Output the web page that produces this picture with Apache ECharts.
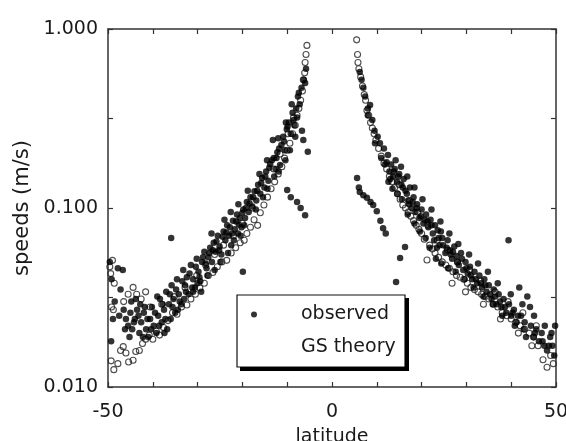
<!DOCTYPE html>
<html>
<head>
<meta charset="utf-8">
<script src="https://cdn.jsdelivr.net/npm/echarts@6/dist/echarts.min.js"></script>
<style>
  html, body { margin: 0; padding: 0; background: #fff; }
  #chart { width: 566px; height: 441px; }
</style>
</head>
<body>
<div id="chart"></div>
<script>
// latitude (deg), speed (m/s)
var observed = [
  [-49.6, 0.050], [-49.2, 0.040], [-48.9, 0.024], [-49.3, 0.018], [-48.5, 0.030], [-47.8, 0.046],
  [-46.7, 0.045], [-47.2, 0.035], [-46.5, 0.027], [-46.0, 0.024], [-45.5, 0.022], [-45.0, 0.026],
  [-44.6, 0.021], [-44.0, 0.024], [-43.5, 0.027], [-43.0, 0.020], [-42.6, 0.023], [-42.0, 0.026],
  [-41.5, 0.021], [-41.0, 0.019], [-40.6, 0.024], [-40.2, 0.028], [-39.8, 0.022], [-39.2, 0.020],
  [-38.8, 0.025], [-38.4, 0.031], [-38.0, 0.023], [-37.5, 0.027], [-37.0, 0.034], [-36.8, 0.021],
  [-36.4, 0.029], [-35.9, 0.068], [-35.8, 0.037], [-35.4, 0.031], [-35.0, 0.026], [-34.6, 0.040],
  [-34.2, 0.033], [-33.6, 0.029], [-33.2, 0.045], [-32.8, 0.037], [-32.4, 0.041], [-32.0, 0.033],
  [-31.5, 0.048], [-31.0, 0.040], [-30.6, 0.036], [-30.2, 0.052], [-29.8, 0.044], [-29.4, 0.039],
  [-29.0, 0.050], [-28.5, 0.057], [-28.0, 0.046], [-27.6, 0.053], [-27.2, 0.060], [-26.8, 0.050],
  [-26.4, 0.064], [-26.0, 0.057], [-25.5, 0.070], [-25.1, 0.061], [-24.7, 0.055], [-24.2, 0.074],
  [-23.8, 0.066], [-23.4, 0.080], [-23.0, 0.070], [-22.5, 0.062], [-22.1, 0.085], [-21.7, 0.076],
  [-21.2, 0.092], [-20.8, 0.081], [-20.4, 0.070], [-19.9, 0.044], [-19.8, 0.098], [-19.4, 0.088],
  [-19.0, 0.108], [-18.6, 0.095], [-18.2, 0.115], [-17.8, 0.102], [-17.3, 0.124], [-16.9, 0.110],
  [-16.5, 0.135], [-16.0, 0.120], [-15.6, 0.147], [-15.1, 0.130], [-14.7, 0.160], [-14.2, 0.142],
  [-13.8, 0.176], [-13.2, 0.240], [-13.0, 0.190], [-12.6, 0.165], [-12.2, 0.205], [-11.6, 0.174],
  [-11.3, 0.225], [-10.9, 0.250], [-10.5, 0.210], [-10.0, 0.126], [-10.1, 0.275], [-9.6, 0.300],
  [-9.2, 0.115], [-9.2, 0.260], [-8.8, 0.340], [-8.4, 0.290], [-7.8, 0.108], [-7.8, 0.320],
  [-7.6, 0.420], [-7.2, 0.380], [-7.0, 0.100], [-6.7, 0.270], [-6.8, 0.470], [-6.4, 0.240],
  [-6.3, 0.520], [-6.0, 0.091], [-6.0, 0.500], [-5.8, 0.600], [-5.4, 0.206],
  [-47.5, 0.025], [-46.2, 0.021], [-45.2, 0.019], [-44.2, 0.023], [-43.2, 0.025], [-42.2, 0.019],
  [-41.2, 0.024], [-40.4, 0.021], [-39.5, 0.026], [-38.6, 0.022], [-37.8, 0.029], [-37.2, 0.024],
  [-36.2, 0.033], [-35.6, 0.028], [-34.8, 0.035], [-34.0, 0.030], [-33.4, 0.039], [-32.6, 0.034],
  [-31.8, 0.043], [-31.2, 0.036], [-30.4, 0.047], [-29.6, 0.041], [-28.8, 0.053], [-28.2, 0.049],
  [-27.4, 0.056], [-26.6, 0.058], [-25.8, 0.065], [-25.2, 0.058], [-24.4, 0.069], [-23.6, 0.073],
  [-22.8, 0.078], [-22.3, 0.072], [-21.4, 0.084], [-20.6, 0.088], [-20.0, 0.094], [-19.2, 0.100],
  [-18.4, 0.106], [-17.6, 0.115], [-16.7, 0.125], [-15.8, 0.138], [-14.9, 0.150], [-14.0, 0.168],
  [-13.4, 0.185], [-12.4, 0.190], [-11.8, 0.215], [-10.7, 0.235], [-9.9, 0.285], [-8.6, 0.310],
  [-8.0, 0.360], [-7.4, 0.440],
  [-44.8, 0.030], [-43.8, 0.031], [-42.8, 0.029], [-41.8, 0.028], [-39.0, 0.032], [-37.4, 0.020],
  [-36.0, 0.024], [-34.4, 0.027], [-33.0, 0.031], [-31.0, 0.034], [-30.0, 0.038], [-29.2, 0.034],
  [-27.8, 0.042], [-26.2, 0.045], [-24.9, 0.050], [-23.2, 0.056], [-21.9, 0.066], [-21.0, 0.072],
  [-20.2, 0.078], [-19.6, 0.080], [-17.0, 0.098], [-15.4, 0.115], [-14.4, 0.128], [-12.9, 0.150],
  [-11.9, 0.160], [-10.4, 0.185], [-9.4, 0.210], [-8.2, 0.250], [-26.9, 0.072], [-24.0, 0.086],
  [-22.6, 0.095], [-20.9, 0.105], [-18.8, 0.125], [-16.2, 0.155], [-14.5, 0.185], [-12.0, 0.245],
  [-10.3, 0.300], [-9.0, 0.380],
  [5.6, 0.147], [6.0, 0.130], [6.2, 0.575], [6.2, 0.123], [6.6, 0.520], [7.0, 0.470],
  [7.0, 0.118], [7.4, 0.420], [7.8, 0.114], [8.0, 0.360], [8.5, 0.376], [8.6, 0.108],
  [9.0, 0.310], [9.2, 0.104], [9.5, 0.270], [10.0, 0.096], [10.2, 0.250], [10.7, 0.230],
  [10.8, 0.085], [11.4, 0.077], [11.6, 0.215], [12.0, 0.072], [12.5, 0.198], [12.8, 0.160],
  [13.2, 0.175], [13.6, 0.150], [14.0, 0.165], [14.3, 0.0386], [14.5, 0.140], [15.0, 0.155],
  [15.2, 0.0525], [15.5, 0.135], [16.0, 0.145], [16.3, 0.0605], [16.4, 0.125], [17.0, 0.110],
  [17.4, 0.130], [17.8, 0.100], [18.2, 0.115], [18.6, 0.095], [19.0, 0.105], [19.5, 0.088],
  [20.0, 0.098], [20.4, 0.082], [21.0, 0.092], [21.5, 0.078], [22.0, 0.086], [22.5, 0.072],
  [23.0, 0.080], [23.4, 0.060], [23.8, 0.068], [24.3, 0.074], [24.8, 0.062], [25.3, 0.056],
  [25.8, 0.066], [26.3, 0.058], [26.8, 0.052], [27.3, 0.061], [27.8, 0.054], [28.3, 0.048],
  [28.8, 0.056], [29.3, 0.045], [29.8, 0.050], [30.3, 0.043], [30.8, 0.047], [31.3, 0.040],
  [31.8, 0.044], [32.4, 0.038], [32.9, 0.042], [33.5, 0.036], [34.0, 0.040], [34.5, 0.034],
  [35.0, 0.037], [35.6, 0.031], [36.1, 0.035], [36.7, 0.029], [37.2, 0.033], [37.8, 0.028],
  [38.3, 0.031], [38.9, 0.026], [39.4, 0.066], [39.5, 0.029], [40.0, 0.025], [40.6, 0.027],
  [41.2, 0.023], [41.8, 0.036], [42.2, 0.025], [42.8, 0.021], [43.6, 0.032], [44.2, 0.028],
  [44.4, 0.022], [45.0, 0.019], [45.6, 0.021], [46.2, 0.018], [46.8, 0.020], [47.4, 0.017],
  [48.0, 0.016], [48.7, 0.019], [49.2, 0.017], [49.6, 0.015], [49.8, 0.022],
  [12.2, 0.180], [13.0, 0.145], [13.8, 0.160], [14.8, 0.150], [15.8, 0.130], [16.7, 0.120],
  [17.2, 0.105], [18.0, 0.108], [18.9, 0.100], [19.8, 0.090], [20.7, 0.086], [21.3, 0.084],
  [22.2, 0.080], [22.8, 0.066], [23.6, 0.075], [24.0, 0.062], [24.6, 0.068], [25.6, 0.060],
  [26.5, 0.055], [27.0, 0.057], [28.0, 0.050], [29.0, 0.052], [30.0, 0.046], [31.0, 0.042],
  [32.1, 0.040], [33.2, 0.038], [34.2, 0.037], [35.3, 0.033], [36.4, 0.032], [37.5, 0.030],
  [38.6, 0.028], [40.3, 0.026], [41.5, 0.025], [43.0, 0.023], [45.3, 0.020], [47.0, 0.018],
  [48.4, 0.017],
  [8.0, 0.330], [9.6, 0.230], [11.0, 0.190], [11.8, 0.175], [12.6, 0.140], [13.5, 0.128],
  [14.6, 0.120], [15.6, 0.112], [16.9, 0.092], [18.4, 0.082], [19.6, 0.074], [20.9, 0.068],
  [21.8, 0.060], [23.2, 0.052], [24.4, 0.049], [25.9, 0.046], [27.6, 0.044], [29.6, 0.040],
  [31.6, 0.036], [33.8, 0.032], [35.9, 0.029], [38.0, 0.025], [40.8, 0.022], [43.3, 0.019],
  [14.2, 0.185], [15.4, 0.170], [16.8, 0.150], [18.4, 0.130], [20.2, 0.112], [22.2, 0.098],
  [24.2, 0.084], [26.2, 0.072], [28.2, 0.063], [30.6, 0.055], [32.6, 0.049], [34.8, 0.044],
  [37.0, 0.038], [39.9, 0.033], [42.5, 0.029], [45.1, 0.025], [47.5, 0.022], [49.0, 0.020]
];

var gsTheory = [
  [-49.6, 0.047], [-49.4, 0.043], [-49.0, 0.051], [-48.6, 0.038], [-49.2, 0.028], [-48.8, 0.027],
  [-49.3, 0.014], [-48.7, 0.0125], [-47.8, 0.0135], [-47.2, 0.016], [-46.6, 0.0168], [-46.0, 0.0155],
  [-45.4, 0.0138], [-44.4, 0.0141], [-43.8, 0.0158], [-43.0, 0.016], [-42.3, 0.0175], [-41.6, 0.0185],
  [-40.8, 0.0195], [-40.0, 0.0185], [-39.2, 0.0205], [-38.5, 0.0195], [-37.6, 0.0215], [-44.4, 0.036],
  [-43.6, 0.033], [-42.6, 0.031], [-41.6, 0.034], [-40.6, 0.028], [-46.5, 0.030], [-45.5, 0.033],
  [-36.6, 0.0235], [-35.6, 0.026], [-34.6, 0.0255], [-33.6, 0.028], [-32.4, 0.0287], [-31.5, 0.031],
  [-30.5, 0.033], [-29.5, 0.0357], [-28.5, 0.038], [-27.6, 0.042], [-26.6, 0.0436], [-25.6, 0.047],
  [-24.6, 0.050], [-23.5, 0.051], [-22.5, 0.056], [-21.5, 0.060], [-20.5, 0.064], [-19.6, 0.066],
  [-19.0, 0.072], [-18.2, 0.078], [-17.4, 0.086], [-16.6, 0.080], [-16.0, 0.094], [-15.2, 0.104],
  [-14.4, 0.115], [-13.6, 0.128], [-12.8, 0.140], [-12.0, 0.155], [-11.2, 0.170], [-10.6, 0.190],
  [-10.0, 0.210], [-9.4, 0.230], [-8.8, 0.260], [-8.2, 0.290], [-7.8, 0.330], [-7.4, 0.360],
  [-7.0, 0.400], [-6.6, 0.450], [-6.4, 0.520], [-6.1, 0.570], [-6.0, 0.650], [-5.8, 0.720],
  [-5.6, 0.810],
  [-17.8, 0.100], [-20.0, 0.082], [-22.0, 0.070], [-24.2, 0.062], [-26.2, 0.055], [-28.2, 0.048],
  [-30.2, 0.042], [-32.8, 0.036], [-35.2, 0.032], [-38.0, 0.029], [-13.0, 0.165], [-11.6, 0.200],
  [-9.8, 0.260], [-8.6, 0.320],
  [5.5, 0.870], [5.7, 0.720], [5.8, 0.650], [6.0, 0.600], [6.4, 0.540], [6.8, 0.480],
  [7.2, 0.430], [7.5, 0.400], [7.8, 0.350], [8.2, 0.330], [8.6, 0.300], [9.0, 0.280],
  [9.4, 0.260], [9.8, 0.240], [10.4, 0.215], [11.0, 0.195], [11.6, 0.178], [12.2, 0.165],
  [12.8, 0.150], [13.4, 0.140], [14.0, 0.130], [14.6, 0.120], [15.2, 0.112], [15.8, 0.104],
  [16.4, 0.100], [17.0, 0.095], [17.6, 0.090], [18.2, 0.085], [18.8, 0.080], [19.4, 0.076],
  [20.0, 0.072], [20.6, 0.067], [21.2, 0.0512], [21.8, 0.062], [22.4, 0.059], [23.0, 0.056],
  [23.8, 0.053], [24.6, 0.050], [25.4, 0.048], [26.2, 0.046], [27.0, 0.044], [27.8, 0.042],
  [28.6, 0.041], [29.4, 0.040], [30.2, 0.038], [31.0, 0.036], [31.8, 0.035], [32.6, 0.034],
  [33.4, 0.033], [34.2, 0.032], [35.0, 0.031], [36.0, 0.029], [37.0, 0.028], [38.0, 0.026],
  [39.0, 0.025], [40.0, 0.024], [41.0, 0.023], [42.0, 0.022], [43.0, 0.021], [44.0, 0.020],
  [45.0, 0.019], [46.0, 0.017], [47.1, 0.0142], [48.0, 0.0129], [48.8, 0.0150], [49.4, 0.0135],
  [15.0, 0.135], [17.3, 0.110], [19.1, 0.095], [21.4, 0.080], [23.5, 0.066], [25.8, 0.058],
  [28.0, 0.050], [30.7, 0.045], [33.2, 0.039], [36.4, 0.034], [39.3, 0.030], [42.6, 0.026],
  [45.6, 0.022], [26.8, 0.038], [29.8, 0.034], [33.8, 0.029], [37.6, 0.024], [41.6, 0.020],
  [44.6, 0.017]
];

var seriesNames = ['observed', 'GS theory'];
var xRange = [-50, 50];
var yRange = [0.01, 1];

var font = 'DejaVu Sans';
var ink = '#1a1a1a';

var chart = echarts.init(document.getElementById('chart'), null, { renderer: 'canvas' });

function decadeLabel(v) {
  var l = Math.log10(v);
  return Math.abs(l - Math.round(l)) < 1e-6 ? v.toFixed(3) : '';
}

var axisLineStyle = { show: true, onZero: false, lineStyle: { color: '#333', width: 1.5 } };
var tickStyle = { show: true, inside: true, length: 5, lineStyle: { color: '#333', width: 1.2 } };

var option = {
  backgroundColor: '#fff',
  animation: false,
  grid: { left: 108, right: 10, top: 29, bottom: 54, containLabel: false, outerBoundsMode: 'none' },
  // legend frame with a hard drop shadow
  graphic: [
    { type: 'rect', z: 3, silent: true, shape: { x: 237, y: 295, width: 168, height: 72 }, style: { fill: '#fff', stroke: '#111', lineWidth: 1.2 } },
    { type: 'rect', z: 4, silent: true, shape: { x: 405, y: 298, width: 4, height: 73 }, style: { fill: '#000' } },
    { type: 'rect', z: 4, silent: true, shape: { x: 240, y: 367, width: 169, height: 4 }, style: { fill: '#000' } }
  ],
  legend: {
    data: [
      { name: seriesNames[0], icon: 'circle' },
      { name: seriesNames[1], icon: 'emptyCircle' }
    ],
    orient: 'vertical',
    left: 237,
    top: 295,
    z: 5,
    padding: [10, 10, 10, 13],
    itemWidth: 6,
    itemHeight: 6,
    itemGap: 14,
    textStyle: { fontFamily: font, fontSize: 19, color: ink, padding: [0, 0, 0, 39] }
  },
  xAxis: [
    {
      type: 'value', min: xRange[0], max: xRange[1], interval: 10,
      name: 'latitude', nameLocation: 'middle', nameGap: 41,
      nameTextStyle: { fontFamily: font, fontSize: 19, color: ink },
      axisLine: axisLineStyle,
      axisTick: tickStyle,
      axisLabel: {
        margin: 16, fontFamily: font, fontSize: 19, color: ink,
        formatter: function (v) { return v % 50 === 0 ? String(v) : ''; }
      },
      splitLine: { show: false }
    },
    {
      type: 'value', position: 'top', min: xRange[0], max: xRange[1], interval: 10,
      axisLine: axisLineStyle,
      axisTick: tickStyle,
      axisLabel: { show: false },
      splitLine: { show: false }
    }
  ],
  yAxis: [
    {
      type: 'log', logBase: Math.sqrt(10), min: yRange[0], max: yRange[1], splitNumber: 4,
      name: 'speeds (m/s)', nameLocation: 'middle', nameGap: 74,
      nameTextStyle: { fontFamily: font, fontSize: 21, color: ink },
      axisLine: axisLineStyle,
      axisTick: tickStyle,
      axisLabel: { margin: 10, fontFamily: font, fontSize: 19, color: ink, formatter: decadeLabel },
      splitLine: { show: false }
    },
    {
      type: 'log', logBase: Math.sqrt(10), position: 'right', min: yRange[0], max: yRange[1], splitNumber: 4,
      axisLine: axisLineStyle,
      axisTick: tickStyle,
      axisLabel: { show: false },
      splitLine: { show: false }
    }
  ],
  series: [
    {
      name: seriesNames[1],
      type: 'scatter',
      data: gsTheory,
      symbol: 'circle',
      symbolSize: 6,
      itemStyle: { color: 'rgba(255,255,255,0)', borderColor: '#222', borderWidth: 1.1 },
      emphasis: { disabled: true }
    },
    {
      name: seriesNames[0],
      type: 'scatter',
      data: observed,
      symbol: 'circle',
      symbolSize: 6.5,
      itemStyle: { color: '#000' },
      emphasis: { disabled: true }
    }
  ]
};

chart.setOption(option);
</script>
</body>
</html>
